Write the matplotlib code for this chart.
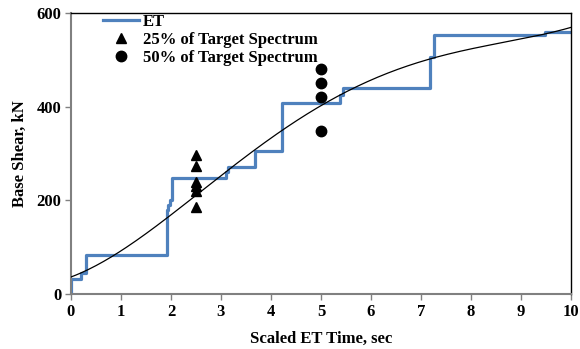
import numpy as np
import matplotlib
matplotlib.use("Agg")
import matplotlib.pyplot as plt

plt.rcParams['font.family'] = ['Liberation Serif', 'DejaVu Serif']
plt.rcParams['font.weight'] = 'bold'

# ET record (step breakpoints, value holds until next time)
et_time = [0.0, 0.0, 0.2, 0.3, 1.92, 1.95, 1.98, 2.02, 3.10, 3.15, 3.68, 4.23, 5.37, 5.43, 7.18, 7.25, 9.47, 10.0]
et_shear = [0, 33, 44, 83, 180, 190, 200, 248, 260, 272, 305, 407, 425, 440, 507, 552, 560, 560]

# scatter points
t25 = [2.5, 2.5, 2.5, 2.5, 2.5, 2.5]
v25 = [297, 273, 240, 231, 220, 185]
t50 = [5, 5, 5, 5]
v50 = [481, 450, 420, 347]

# points
trend_t = [0.0, 0.3, 1.0, 1.93, 2.5, 3.17, 3.58, 4.58, 6.18, 6.58, 7.18, 8.25, 9.45, 10.0]
trend_v = [41, 50, 81, 162, 218, 272, 300, 372, 464, 477, 502, 532, 558, 566]

fig = plt.figure(figsize=(5.8, 3.49), dpi=100)
ax = fig.add_axes([0.1224, 0.1576, 0.8621, 0.8052])

blue = '#4F81BD'
ax.step(et_time, et_shear, where='post', color=blue, lw=2.3, label='ET', zorder=2)
ax.plot(t25, v25, '^', color='black', ms=7, label='25% of Target Spectrum', zorder=3)
ax.plot(t50, v50, 'o', color='black', ms=7.5, label='50% of Target Spectrum', zorder=3)

coef = np.polyfit(trend_t, trend_v, 4)
xs = np.linspace(0, 10, 200)
ax.plot(xs, np.polyval(coef, xs), color='black', lw=0.9, zorder=4)

ax.set_xlim(0, 10)
ax.set_ylim(0, 600)
ax.set_xticks(range(0, 11))
ax.set_yticks([0, 200, 400, 600])
ax.tick_params(axis='both', labelsize=12, color='#808080', length=4, width=1)
ax.tick_params(axis='x', pad=3)
ax.tick_params(axis='y', pad=3)
for s in ['left', 'bottom']:
    ax.spines[s].set_color('#808080')
    ax.spines[s].set_linewidth(1.5)
for s in ['top', 'right']:
    ax.spines[s].set_color('black')
    ax.spines[s].set_linewidth(1)

ax.set_xlabel('Scaled ET Time, sec', fontsize=12, fontweight='bold', labelpad=8)
ax.set_ylabel('Base Shear, kN', fontsize=12, fontweight='bold', labelpad=6)

ax.legend(loc='upper left', frameon=False, fontsize=12, handlelength=2.2,
          handletextpad=0.2, labelspacing=0.12, borderaxespad=0.0,
          bbox_to_anchor=(0.05, 1.02))

fig.savefig('out.png', dpi=100)
